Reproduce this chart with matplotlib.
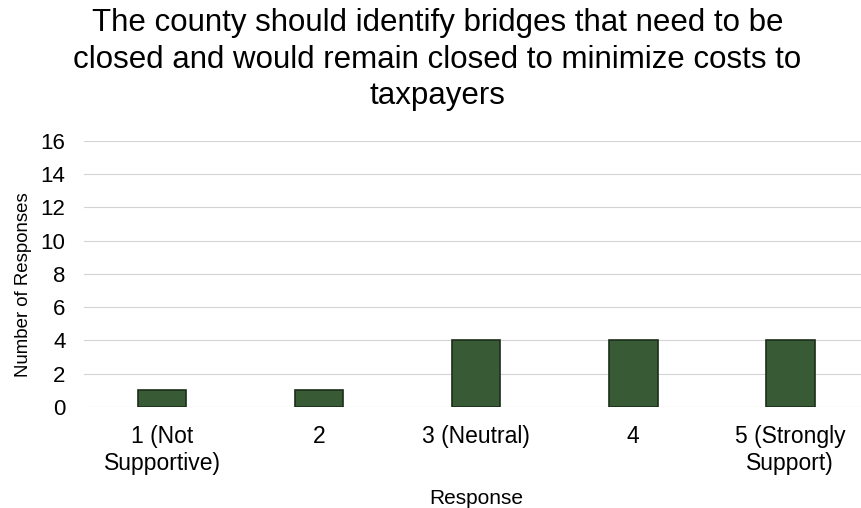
import matplotlib
matplotlib.use('Agg')
import matplotlib.pyplot as plt
import numpy as np

plt.rcParams['font.family'] = ['Liberation Sans', 'DejaVu Sans']

categories = ['1 (Not\nSupportive)', '2', '3 (Neutral)', '4', '5 (Strongly\nSupport)']
counts = [1, 1, 4, 4, 4]
y_ticks = [0, 2, 4, 6, 8, 10, 12, 14, 16]

BAR_COLOR = '#385a34'
EDGE_COLOR = '#1c2e1a'

fig = plt.figure(figsize=(8.61, 5.08), dpi=100)
ax = fig.add_axes([0.097, 0.199, 0.912, 0.5236])

x = np.arange(len(categories))
ax.bar(x, counts, width=0.31, color=BAR_COLOR, edgecolor=EDGE_COLOR, linewidth=1.2, zorder=3)

ax.set_xlim(-0.5, len(categories) - 0.5)
ax.set_ylim(0, 16)
ax.set_yticks(y_ticks)
ax.set_xticks(x)
ax.set_xticklabels(categories, fontsize=16.5, linespacing=1.25)
ax.tick_params(axis='y', labelsize=16, length=0, pad=13)
ax.tick_params(axis='x', length=0, pad=13)

ax.grid(axis='y', color='#d4d4d4', linewidth=0.8, zorder=0)
for spine in ax.spines.values():
    spine.set_visible(False)

ax.set_ylabel('Number of Responses', fontsize=13.4)
ax.yaxis.set_label_coords(-0.065, 0.46)
ax.set_xlabel('Response', fontsize=15, labelpad=10)

fig.suptitle('The county should identify bridges that need to be\n'
             'closed and would remain closed to minimize costs to\n'
             'taxpayers', fontsize=22.5, x=0.508, y=0.985, linespacing=1.3)

fig.savefig('out.png', dpi=100)
